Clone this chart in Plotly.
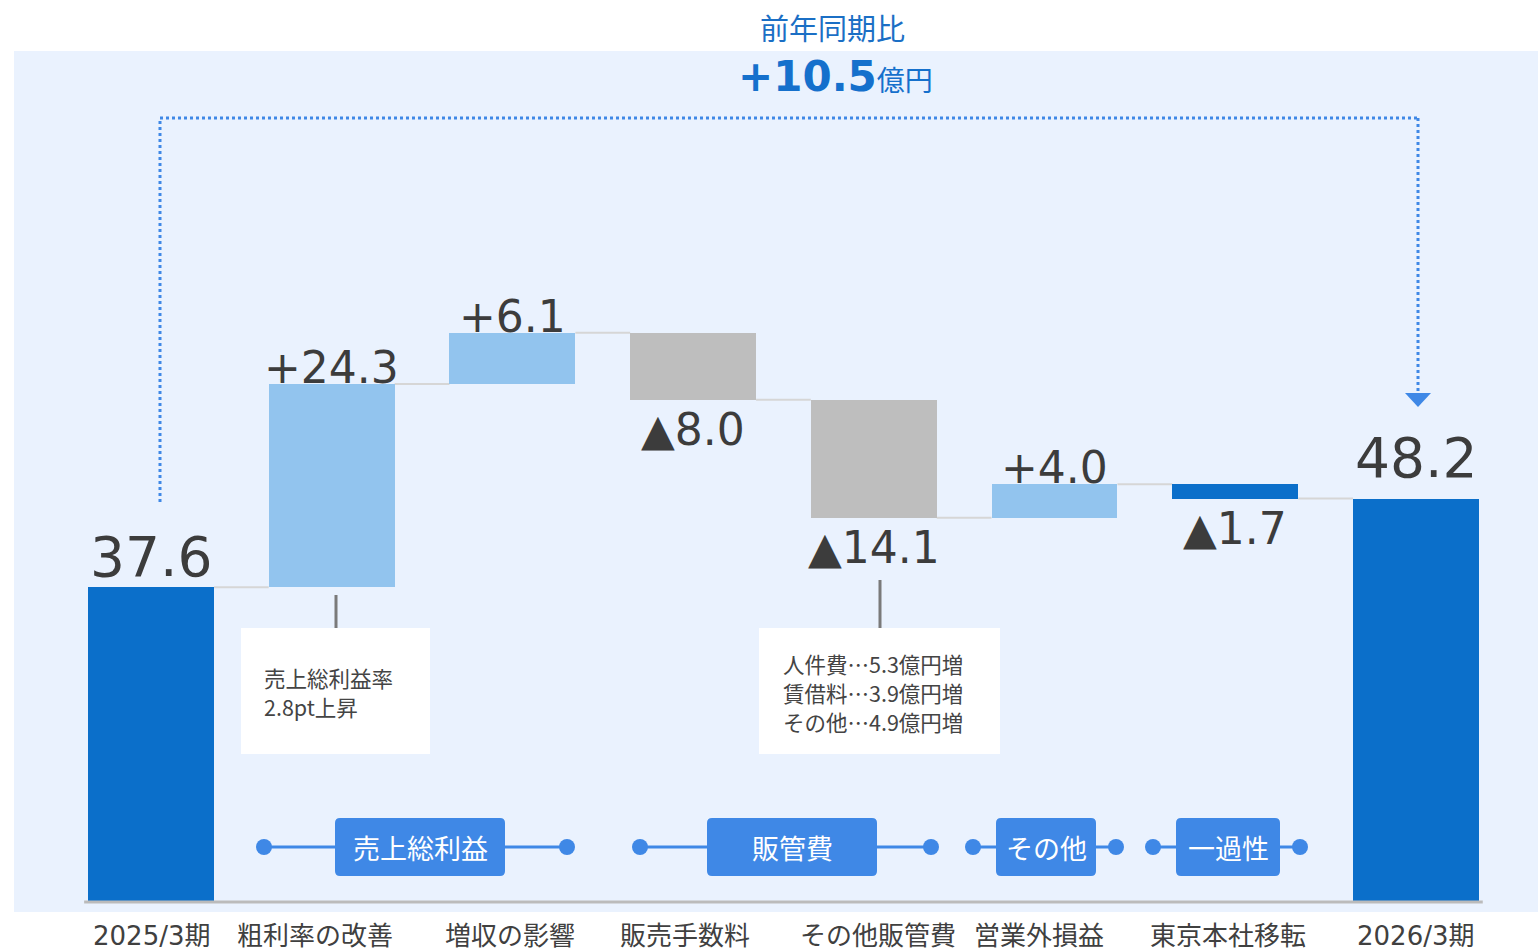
import plotly.graph_objects as go

# ---- data -------------------------------------------------------------
categories = ["2025/3期", "粗利率の改善", "増収の影響", "販売手数料",
              "その他販管費", "営業外損益", "東京本社移転", "2026/3期"]
values = [37.6, 24.3, 6.1, -8.0, -14.1, 4.0, -1.7, 48.2]
is_total = [True, False, False, False, False, False, False, True]

title_text = "前年同期比"
diff_value = 10.5

note_gross = ["売上総利益率", "2.8pt上昇"]
note_sga = ["人件費…5.3億円増", "賃借料…3.9億円増", "その他…4.9億円増"]

groups = ["売上総利益", "販管費", "その他", "一過性"]

# ---- canvas geometry ----------------------------------------------------
W, H = 1538, 951
CJK = "Noto Sans CJK JP"
FONT = "DejaVu Sans, Noto Sans CJK JP"
C_TOTAL = "#0B6FCA"
C_UP = "#92C4EE"
C_DOWN = "#BEBEBE"
C_ACCENT = "#3F88E6"
C_TEXT = "#3C3C3C"

bar_colors = [C_TOTAL, C_UP, C_UP, C_DOWN, C_DOWN, C_UP, C_TOTAL, C_TOTAL]
label_xshift = [0, -17, -2, -8, 4, -16, -7, 0]
BAR_W = 0.697


def px(x):
    return x / W


def py(y):
    return 1 - y / H


# running levels of the waterfall
bases, tops, levels = [], [], []
run = 0.0
for v, tot in zip(values, is_total):
    if tot:
        base, top = 0.0, v
        run = v
    else:
        base = run if v >= 0 else run + v
        top = base + abs(v)
        run += v
    bases.append(base)
    tops.append(top)
    levels.append(run)

heights = [t - b for b, t in zip(bases, tops)]
xs = list(range(len(categories)))

fig = go.Figure()
fig.add_trace(go.Bar(
    x=xs, y=heights, base=bases, width=BAR_W,
    marker=dict(color=bar_colors, line=dict(width=0)),
    hoverinfo="skip", showlegend=False,
))

shapes = []
annotations = []

# light blue panel behind the chart
shapes.append(dict(type="rect", xref="paper", yref="paper", layer="below",
                   x0=px(14), x1=1, y0=py(912), y1=py(51),
                   fillcolor="#EAF2FE", line=dict(width=0)))

# baseline
shapes.append(dict(type="line", xref="x", yref="y",
                   x0=-0.37, x1=7.37, y0=0, y1=0, layer="above",
                   line=dict(color="#BBBBBB", width=3)))

# connectors between bars
for i in range(len(values) - 1):
    shapes.append(dict(type="line", xref="x", yref="y", layer="below",
                       x0=i + BAR_W / 2, x1=i + 1 - BAR_W / 2,
                       y0=levels[i], y1=levels[i],
                       line=dict(color="#D6D6D6", width=2)))

# value labels
for i, (v, tot) in enumerate(zip(values, is_total)):
    if tot:
        annotations.append(dict(x=i, y=tops[i], xref="x", yref="y",
                                text=f"{v:.1f}", showarrow=False,
                                yanchor="bottom", yshift=-4 if i == 0 else 7,
                                font=dict(family=FONT, size=55, color=C_TEXT)))
    elif v >= 0:
        annotations.append(dict(x=i, y=tops[i], xref="x", yref="y",
                                text=f"+{v:.1f}", showarrow=False,
                                yanchor="bottom", yshift=-11,
                                font=dict(family=FONT, size=44, color=C_TEXT)))
    else:
        annotations.append(dict(x=i, y=bases[i], xref="x", yref="y",
                                text=f"▲{abs(v):.1f}", showarrow=False,
                                yanchor="top", yshift=-2,
                                font=dict(family=FONT, size=44, color=C_TEXT)))

# category labels under the axis
for i, c in enumerate(categories):
    annotations.append(dict(x=i, y=py(936), xref="x", yref="paper",
                            xshift=label_xshift[i],
                            text=c, showarrow=False, yanchor="middle",
                            font=dict(family=FONT, size=26, color="#404040")))

# headline
annotations.append(dict(x=px(833), y=py(27), xref="paper", yref="paper",
                        text=title_text, showarrow=False,
                        xanchor="center", yanchor="middle",
                        font=dict(family=CJK, size=29, color="#1B6FC5")))
annotations.append(dict(
    x=px(835), y=py(77), xref="paper", yref="paper", showarrow=False,
    xanchor="center", yanchor="middle",
    text=(f"<b>+{diff_value:.1f}</b>"
          "<span style='font-size:28px'>億円</span>"),
    font=dict(family=FONT, size=42, color="#1570CC")))

# dotted bracket from the first total to the last total
dot = dict(color=C_ACCENT, width=3, dash="dot")
shapes.append(dict(type="line", xref="paper", yref="paper",
                   x0=px(160), x1=px(160), y0=py(502), y1=py(118), line=dot))
shapes.append(dict(type="line", xref="paper", yref="paper",
                   x0=px(160), x1=px(1418), y0=py(118), y1=py(118), line=dot))
shapes.append(dict(type="line", xref="paper", yref="paper",
                   x0=px(1418), x1=px(1418), y0=py(118), y1=py(394), line=dot))
shapes.append(dict(type="path", xref="paper", yref="paper",
                   path=(f"M {px(1405)},{py(393)} L {px(1431)},{py(393)} "
                         f"L {px(1418)},{py(407)} Z"),
                   fillcolor=C_ACCENT, line=dict(width=0)))

# explanatory notes: one annotation per line, 29 px apart
LINE_GAP = 29
note_boxes = [
    (note_gross, (241, 430, 628, 754), (262, 677), (336, 595)),
    (note_sga, (759, 1000, 628, 754), (781, 663), (880, 580)),
]
for lines, (bx0, bx1, by0, by1), (tx, ty), (lx, ly) in note_boxes:
    shapes.append(dict(type="rect", xref="paper", yref="paper",
                       x0=px(bx0), x1=px(bx1), y0=py(by1), y1=py(by0),
                       fillcolor="white", line=dict(width=0)))
    shapes.append(dict(type="line", xref="paper", yref="paper",
                       x0=px(lx), x1=px(lx), y0=py(ly), y1=py(by0),
                       line=dict(color="#7A7A7A", width=3)))
    for k, line in enumerate(lines):
        annotations.append(dict(x=px(tx), y=py(ty + k * LINE_GAP),
                                xref="paper", yref="paper",
                                text=line, showarrow=False,
                                xanchor="left", yanchor="middle", align="left",
                                font=dict(family=CJK, size=21.5,
                                          color="#444444")))


def round_rect(x0, x1, y0, y1, r):
    return (f"M {px(x0 + r)},{py(y0)} L {px(x1 - r)},{py(y0)} "
            f"Q {px(x1)},{py(y0)} {px(x1)},{py(y0 + r)} "
            f"L {px(x1)},{py(y1 - r)} Q {px(x1)},{py(y1)} {px(x1 - r)},{py(y1)} "
            f"L {px(x0 + r)},{py(y1)} Q {px(x0)},{py(y1)} {px(x0)},{py(y1 - r)} "
            f"L {px(x0)},{py(y0 + r)} Q {px(x0)},{py(y0)} {px(x0 + r)},{py(y0)} Z")


# group tags: (line start, line end, box left, box right)
group_spans = [(264, 567, 335, 505), (640, 931, 707, 877),
               (973, 1116, 996, 1096), (1153, 1300, 1176, 1280)]
GY = 847
for name, (l0, l1, b0, b1) in zip(groups, group_spans):
    shapes.append(dict(type="line", xref="paper", yref="paper",
                       x0=px(l0), x1=px(l1), y0=py(GY), y1=py(GY),
                       line=dict(color=C_ACCENT, width=3)))
    for cx in (l0, l1):
        shapes.append(dict(type="circle", xref="paper", yref="paper",
                           x0=px(cx - 8), x1=px(cx + 8),
                           y0=py(GY + 8), y1=py(GY - 8),
                           fillcolor=C_ACCENT, line=dict(width=0)))
    shapes.append(dict(type="path", xref="paper", yref="paper",
                       path=round_rect(b0, b1, 818, 876, 5),
                       fillcolor=C_ACCENT, line=dict(width=0)))
    annotations.append(dict(x=px((b0 + b1) / 2), y=py(GY), xref="paper",
                            yref="paper", text=name, showarrow=False,
                            xanchor="center", yanchor="middle",
                            font=dict(family=CJK, size=27, color="white")))

# axis scaling: 8.37 px per unit, zero at y=902
SCALE = 8.37
y_lo = -(H - 902) / SCALE
y_hi = y_lo + H / SCALE
x_lo = -151 / 180.7
x_hi = x_lo + W / 180.7

fig.update_layout(
    width=W, height=H,
    margin=dict(l=0, r=0, t=0, b=0, pad=0),
    paper_bgcolor="white", plot_bgcolor="rgba(0,0,0,0)",
    xaxis=dict(range=[x_lo, x_hi], visible=False, fixedrange=True),
    yaxis=dict(range=[y_lo, y_hi], visible=False, fixedrange=True),
    shapes=shapes, annotations=annotations,
    bargap=0, showlegend=False,
)

fig.write_html("out.html", config={"displayModeBar": False})
